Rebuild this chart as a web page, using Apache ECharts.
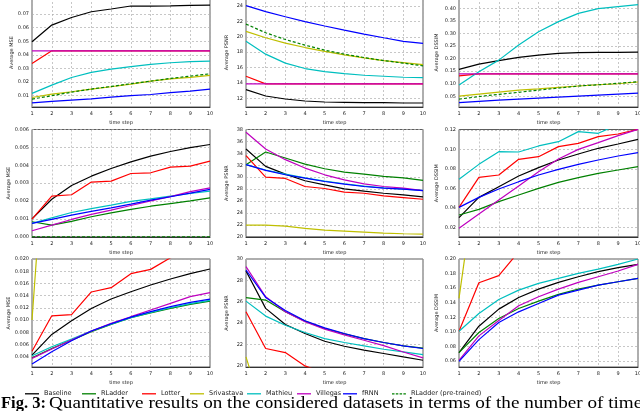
<!DOCTYPE html>
<html><head><meta charset="utf-8">
<script src="https://cdn.jsdelivr.net/npm/echarts@6/dist/echarts.min.js"></script>
<style>html,body{margin:0;padding:0;background:#fff}#c{width:640px;height:411px}</style>
</head><body><div id="c"></div><script>
// ---------- DATA ----------
const steps = [1,2,3,4,5,6,7,8,9,10];
const seriesNames = ['Baseline','RLadder','Lotter','Srivastava','Mathieu','Villegas','fRNN','RLadder (pre-trained)'];

// Row 1 (dataset 1)
const d1_mse = {
  'Baseline':   [0.0497,0.0619,0.0675,0.0717,0.0737,0.0759,0.0759,0.0760,0.0764,0.0766],
  'Lotter':     [0.0337,0.0430,0.0430,0.0430,0.0430,0.0430,0.0430,0.0430,0.0430,0.0430],
  'Srivastava': [0.0087,0.0112,0.0129,0.0149,0.0166,0.0185,0.0207,0.0224,0.0234,0.0249],
  'Mathieu':    [0.0117,0.0178,0.0234,0.0271,0.0296,0.0313,0.0330,0.0342,0.0350,0.0354],
  'Villegas':   [0.0430,0.0430,0.0430,0.0430,0.0430,0.0430,0.0430,0.0430,0.0430,0.0430],
  'fRNN':       [0.0048,0.0058,0.0068,0.0077,0.0090,0.0100,0.0109,0.0122,0.0134,0.0149],
  'RLadder (pre-trained)': [0.0075,0.0100,0.0126,0.0149,0.0168,0.0188,0.0207,0.0227,0.0244,0.0261]
};
const d1_psnr = {
  'Baseline':   [13.13,12.30,11.91,11.65,11.52,11.48,11.43,11.43,11.39,11.39],
  'Lotter':     [14.87,13.88,13.88,13.88,13.88,13.88,13.88,13.88,13.88,13.88],
  'Srivastava': [20.70,19.87,19.17,18.60,18.09,17.65,17.26,16.91,16.65,16.39],
  'Mathieu':    [19.43,17.74,16.57,15.87,15.48,15.20,15.00,14.87,14.74,14.70],
  'Villegas':   [13.88,13.88,13.88,13.88,13.88,13.88,13.88,13.88,13.88,13.88],
  'fRNN':       [24.04,23.26,22.60,21.96,21.40,20.87,20.35,19.87,19.40,19.13],
  'RLadder (pre-trained)': [21.65,20.52,19.65,18.91,18.26,17.74,17.30,16.91,16.57,16.22]
};
const d1_dssim = {
  'Baseline':   [0.157,0.178,0.192,0.205,0.214,0.221,0.224,0.225,0.225,0.226],
  'Lotter':     [0.131,0.139,0.139,0.139,0.139,0.139,0.139,0.139,0.139,0.139],
  'Srivastava': [0.051,0.059,0.067,0.075,0.080,0.086,0.091,0.096,0.100,0.107],
  'Mathieu':    [0.095,0.148,0.194,0.254,0.307,0.347,0.380,0.399,0.407,0.415],
  'Villegas':   [0.139,0.139,0.139,0.139,0.139,0.139,0.139,0.139,0.139,0.139],
  'fRNN':       [0.025,0.030,0.035,0.039,0.043,0.047,0.051,0.055,0.059,0.063],
  'RLadder (pre-trained)': [0.039,0.049,0.058,0.066,0.075,0.083,0.091,0.096,0.102,0.108]
};
// Row 2 (dataset 2)
const d2_mse = {
  'Baseline':   [0.00100,0.00210,0.00287,0.00339,0.00382,0.00419,0.00451,0.00477,0.00499,0.00516],
  'RLadder':    [0.00084,0.00065,0.00086,0.00112,0.00134,0.00153,0.00171,0.00186,0.00201,0.00218],
  'Lotter':     [0.00099,0.00227,0.00235,0.00306,0.00311,0.00354,0.00358,0.00390,0.00395,0.00423],
  'Mathieu':    [0.00075,0.00106,0.00136,0.00158,0.00177,0.00198,0.00212,0.00227,0.00242,0.00255],
  'Villegas':   [0.00034,0.00065,0.00097,0.00125,0.00149,0.00175,0.00201,0.00225,0.00253,0.00274],
  'fRNN':       [0.00075,0.00097,0.00121,0.00142,0.00162,0.00183,0.00205,0.00224,0.00244,0.00265],
  'RLadder (pre-trained)': [0,0,0,0,0,0,0,0,0,0]
};
const d2_psnr = {
  'Baseline':   [34.74,31.81,30.52,29.40,28.72,28.05,27.65,27.31,27.03,26.70],
  'RLadder':    [32.10,34.23,33.22,32.20,31.42,30.86,30.52,30.13,29.90,29.45],
  'Lotter':     [33.61,30.01,29.79,28.44,28.10,27.48,27.31,26.86,26.58,26.30],
  'Srivastava': [21.97,21.97,21.80,21.41,21.13,20.96,20.79,20.62,20.51,20.45],
  'Mathieu':    [32.10,31.20,30.50,29.90,29.35,28.90,28.50,28.20,28.00,27.80],
  'Villegas':   [37.55,34.74,32.94,31.53,30.40,29.56,28.89,28.44,28.16,27.76],
  'fRNN':       [32.10,31.14,30.41,29.84,29.28,28.83,28.44,28.16,27.99,27.76]
};
const d2_dssim = {
  'Baseline':   [0.0300,0.0508,0.0618,0.0727,0.0813,0.0892,0.0953,0.1012,0.1056,0.1104],
  'RLadder':    [0.0327,0.0385,0.0464,0.0532,0.0601,0.0662,0.0710,0.0755,0.0789,0.0823],
  'Lotter':     [0.0405,0.0714,0.0738,0.0899,0.0926,0.1029,0.1063,0.1132,0.1159,0.1207],
  'Mathieu':    [0.0693,0.0847,0.0977,0.0974,0.1036,0.1080,0.1183,0.1166,0.1257,0.1300],
  'Villegas':   [0.0190,0.0337,0.0481,0.0625,0.0772,0.0902,0.1001,0.1070,0.1142,0.1207],
  'fRNN':       [0.0405,0.0508,0.0594,0.0669,0.0738,0.0796,0.0847,0.0892,0.0933,0.0967]
};
// Row 3 (dataset 3)
const d3_mse = {
  'Baseline':   [0.00426,0.00765,0.00990,0.01190,0.01344,0.01464,0.01574,0.01672,0.01760,0.01836],
  'RLadder':    [0.00383,0.00535,0.00672,0.00809,0.00929,0.01038,0.01115,0.01191,0.01257,0.01311],
  'Lotter':     [0.00490,0.01070,0.01090,0.01460,0.01530,0.01760,0.01830,0.02020,0.02150,0.02250],
  'Srivastava': [0.01000,0.05500,0.06000,0.06300,0.06500,0.06700,0.06900,0.07000,0.07100,0.07200],
  'Mathieu':    [0.00415,0.00563,0.00688,0.00820,0.00934,0.01038,0.01126,0.01202,0.01268,0.01322],
  'Villegas':   [0.00372,0.00525,0.00672,0.00820,0.00945,0.01055,0.01164,0.01273,0.01383,0.01448],
  'fRNN':       [0.00279,0.00481,0.00661,0.00820,0.00940,0.01049,0.01137,0.01219,0.01290,0.01344]
};
const d3_psnr = {
  'Baseline':   [28.88,25.38,23.88,23.03,22.31,21.84,21.47,21.16,20.84,20.53],
  'RLadder':    [26.38,26.16,25.06,24.19,23.50,23.00,22.56,22.19,21.88,21.66],
  'Lotter':     [25.06,21.63,21.25,20.00,19.30,18.80,18.40,18.10,17.80,17.60],
  'Srivastava': [20.85,14.90,14.00,13.50,13.20,13.00,12.80,12.70,12.60,12.50],
  'Mathieu':    [26.06,24.66,23.81,23.13,22.56,22.19,21.88,21.56,21.31,21.06],
  'Villegas':   [29.28,26.47,25.06,24.13,23.44,22.90,22.40,21.90,21.30,20.75],
  'fRNN':       [28.97,26.41,25.19,24.22,23.56,23.03,22.56,22.19,21.88,21.63]
};
const d3_dssim = {
  'Baseline':   [0.0716,0.1078,0.1312,0.1472,0.1587,0.1679,0.1757,0.1826,0.1881,0.1927],
  'RLadder':    [0.0716,0.0991,0.1183,0.1321,0.1422,0.1514,0.1587,0.1642,0.1688,0.1734],
  'Lotter':     [0.1009,0.1674,0.1771,0.2100,0.2200,0.2300,0.2400,0.2450,0.2500,0.2550],
  'Srivastava': [0.1459,0.3400,0.3600,0.3700,0.3800,0.3850,0.3900,0.3950,0.4000,0.4050],
  'Mathieu':    [0.1009,0.1252,0.1445,0.1573,0.1665,0.1734,0.1803,0.1862,0.1927,0.2000],
  'Villegas':   [0.0610,0.0945,0.1156,0.1358,0.1482,0.1587,0.1679,0.1757,0.1835,0.1927],
  'fRNN':       [0.0596,0.0894,0.1128,0.1275,0.1390,0.1505,0.1573,0.1642,0.1688,0.1734]
};

// Tick labels
const ticks_mse1   = [0.01,0.02,0.03,0.04,0.05,0.06,0.07];
const ticks_psnr1  = [12,14,16,18,20,22,24];
const ticks_dssim1 = [0.05,0.10,0.15,0.20,0.25,0.30,0.35,0.40];
const ticks_mse2   = [0,0.001,0.002,0.003,0.004,0.005,0.006];
const ticks_psnr2  = [20,22,24,26,28,30,32,34,36,38];
const ticks_dssim2 = [0.02,0.04,0.06,0.08,0.10,0.12];
const ticks_mse3   = [0.004,0.006,0.008,0.010,0.012,0.014,0.016,0.018,0.020];
const ticks_psnr3  = [20,22,24,26,28,30];
const ticks_dssim3 = [0.06,0.08,0.10,0.12,0.14,0.16,0.18,0.20];
const captionLabel = 'Fig. 3:';
const captionText = 'Quantitative results on the considered datasets in terms of the number of time';

// ---------- LAYOUT / STYLE ----------
const colors = {
  'Baseline':'#000000','RLadder':'#008000','Lotter':'#ff0000','Srivastava':'#bfbf00',
  'Mathieu':'#00bfbf','Villegas':'#bf00bf','fRNN':'#0000ff','RLadder (pre-trained)':'#008000'
};
const cols = [{left:32,width:178,gap:17},{left:246,width:177,gap:17},{left:459,width:179,gap:20}];
const rows = [{top:-2,bottom:107},{top:129.5,bottom:236.8},{top:259,bottom:367}];
const panels = [
  {data:d1_mse,  name:'Average MSE',   min:0.0017, max:0.0818, ticks:ticks_mse1,  dec:2},
  {data:d1_psnr, name:'Average PSNR',  min:10.87,  max:25.04,  ticks:ticks_psnr1, dec:0},
  {data:d1_dssim,name:'Average DSSIM', min:0.0076, max:0.441,  ticks:ticks_dssim1,dec:2},
  {data:d2_mse,  name:'Average MSE',   min:0,      max:0.006,  ticks:ticks_mse2,  dec:3},
  {data:d2_psnr, name:'Average PSNR',  min:20,     max:38,     ticks:ticks_psnr2, dec:0},
  {data:d2_dssim,name:'Average DSSIM', min:0.0103, max:0.1205, ticks:ticks_dssim2,dec:2},
  {data:d3_mse,  name:'Average MSE',   min:0.00231,max:0.020,  ticks:ticks_mse3,  dec:3},
  {data:d3_psnr, name:'Average PSNR',  min:19.9,   max:30,     ticks:ticks_psnr3, dec:0},
  {data:d3_dssim,name:'Average DSSIM', min:0.0518, max:0.20,   ticks:ticks_dssim3,dec:2}
];
const FONT = 'DejaVu Sans';
const txt = '#222';
const gridLine = {show:true, lineStyle:{color:'#b0b0b0', width:0.7, type:[2,2]}};

const grid=[], xAxis=[], yAxis=[], series=[];
panels.forEach((p,i)=>{
  const r = rows[Math.floor(i/3)], c = cols[i%3];
  grid.push({left:c.left, width:c.width, top:r.top, height:r.bottom-r.top,
    show:true, borderColor:'#333', borderWidth:0.8, containLabel:false, outerBoundsMode:'none'});
  xAxis.push({type:'value', gridIndex:i, min:1, max:10, interval:1,
    name:'time step', nameLocation:'middle', nameGap:13,
    nameTextStyle:{fontSize:5, color:txt, fontFamily:FONT},
    axisLine:{show:true, lineStyle:{color:'#333', width:1}},
    axisTick:{show:false},
    axisLabel:{fontSize:5, color:txt, margin:4, fontFamily:FONT},
    splitLine:gridLine});
  yAxis.push({type:'value', gridIndex:i, min:p.min, max:p.max,
    name:p.name, nameLocation:'middle', nameGap:c.gap, nameRotate:90,
    nameTextStyle:{fontSize:5, color:txt, fontFamily:FONT},
    axisLine:{show:false},
    axisTick:{show:false, customValues:p.ticks},
    axisLabel:{fontSize:5, color:txt, margin:3, fontFamily:FONT, customValues:p.ticks,
      formatter:(v)=>Number(v).toFixed(p.dec)},
    splitLine:gridLine});
  seriesNames.forEach(n=>{
    if(!p.data[n]) return;
    series.push({type:'line', name:n, xAxisIndex:i, yAxisIndex:i,
      data: steps.map((s,k)=>[s, p.data[n][k]]),
      symbol:'none', clip:true, silent:true,
      lineStyle:{color:colors[n], width:1.2, type: n==='RLadder (pre-trained)' ? [3,2] : 'solid'},
      itemStyle:{color:colors[n]}});
  });
});

const legendX = [25,82,142,190,247,297,343,392];
const solidIcon = 'path://M0,0H14V1.3H0Z';
const dashIcon = 'path://M0,0H2.5V1.3H0Z M3.8,0H6.3V1.3H3.8Z M7.6,0H10.1V1.3H7.6Z M11.4,0H13.9V1.3H11.4Z';
const legend = seriesNames.map((n,k)=>({
  data:[{name:n, icon: n==='RLadder (pre-trained)' ? dashIcon : solidIcon}],
  left:legendX[k], top:390.3, padding:0, itemWidth:14, itemHeight:1.3,
  textStyle:{fontSize:6.5, color:txt, fontFamily:FONT}, selectedMode:false
}));

const chart = echarts.init(document.getElementById('c'), null, {renderer:'canvas'});
chart.setOption({
  animation:false, backgroundColor:'#fff',
  grid, xAxis, yAxis, series, legend,
  graphic:[
    {type:'text', x:1, y:395, silent:true,
      style:{text:captionLabel, fill:'#000', verticalAlign:'top',
        font:'bold 16.5px "Liberation Serif"'}},
    {type:'text', x:49, y:395, scaleX:1.16, silent:true,
      style:{text:captionText, fill:'#000', verticalAlign:'top',
        font:'16.5px "Liberation Serif"'}}
  ]
});
</script></body></html>
